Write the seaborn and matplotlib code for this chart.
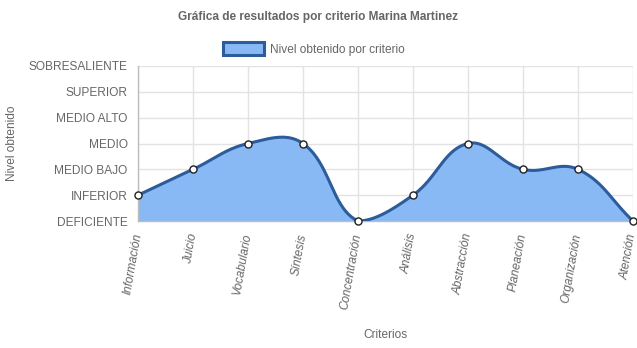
import numpy as np
import pandas as pd
import matplotlib
matplotlib.use("Agg")
import matplotlib.pyplot as plt
from matplotlib.patches import Patch
import seaborn as sns

categories = ["Información", "Juicio", "Vocabulario", "Síntesis", "Concentración",
              "Análisis", "Abstracción", "Planeación", "Organización", "Atención"]
values = [1, 2, 3, 3, 0, 1, 3, 2, 2, 0]
levels = ["DEFICIENTE", "INFERIOR", "MEDIO BAJO", "MEDIO", "MEDIO ALTO",
          "SUPERIOR", "SOBRESALIENTE"]
series_name = "Nivel obtenido por criterio"
title = "Gráfica de resultados por criterio Marina Martinez"

W, H, DPI = 637, 348, 100
L, R, T, B = 138, 633, 66, 221

sns.set_theme(style="white")
plt.rcParams['font.family'] = ['Liberation Sans', 'DejaVu Sans']

fill_c = "#88b9f5"
line_c = "#2d5c9b"
grey = "#666666"

fig = plt.figure(figsize=(W / DPI, H / DPI), dpi=DPI)
ax = fig.add_axes([L / W, 1 - B / H, (R - L) / W, (B - T) / H])
ax.set_xlim(0, len(categories) - 1)
ax.set_ylim(0, len(levels) - 1)

# Chart.js-like spline (tension 0.4), computed in pixel space
xs = np.arange(len(categories), dtype=float)
ys = np.array(values, dtype=float)
sx = (R - L) / (len(categories) - 1)
sy = (B - T) / (len(levels) - 1)
px, py = xs * sx, ys * sy
tension = 0.4
n = len(px)
cprev = np.zeros((n, 2)); cnext = np.zeros((n, 2))
for i in range(n):
    p = (px[max(i - 1, 0)], py[max(i - 1, 0)])
    c = (px[i], py[i])
    nx = (px[min(i + 1, n - 1)], py[min(i + 1, n - 1)])
    d01 = np.hypot(c[0] - p[0], c[1] - p[1])
    d12 = np.hypot(nx[0] - c[0], nx[1] - c[1])
    s01 = d01 / (d01 + d12) if d01 + d12 else 0
    s12 = d12 / (d01 + d12) if d01 + d12 else 0
    fa, fb = tension * s01, tension * s12
    cprev[i] = (c[0] - fa * (nx[0] - p[0]), c[1] - fa * (nx[1] - p[1]))
    cnext[i] = (c[0] + fb * (nx[0] - p[0]), c[1] + fb * (nx[1] - p[1]))
ymax_px = (len(levels) - 1) * sy
cprev[:, 1] = np.clip(cprev[:, 1], 0, ymax_px)
cnext[:, 1] = np.clip(cnext[:, 1], 0, ymax_px)

t = np.linspace(0, 1, 60)[:, None]
curve = []
for i in range(n - 1):
    P0 = np.array([px[i], py[i]]); P3 = np.array([px[i + 1], py[i + 1]])
    P1 = cnext[i]; P2 = cprev[i + 1]
    pts = ((1 - t) ** 3) * P0 + 3 * ((1 - t) ** 2) * t * P1 + 3 * (1 - t) * t ** 2 * P2 + t ** 3 * P3
    curve.append(pts if i == 0 else pts[1:])
curve = np.vstack(curve)
cx, cy = curve[:, 0] / sx, curve[:, 1] / sy

ax.fill_between(cx, 0, cy, color=fill_c, linewidth=0, zorder=2)
curve_df = pd.DataFrame({"x": cx, "y": cy, "ord": np.arange(len(cx))})
sns.lineplot(data=curve_df, x="x", y="y", sort=False, color=line_c, linewidth=2.2,
             ax=ax, zorder=3, estimator=None)
pts_df = pd.DataFrame({"x": xs, "y": ys})
sns.scatterplot(data=pts_df, x="x", y="y", s=26, color="white", edgecolor="#222222",
                linewidth=1.0, ax=ax, zorder=4, clip_on=False)

# grid / axes
ax.set_xticks(xs)
ax.set_xticklabels(categories, rotation=80, rotation_mode="anchor", ha="right",
                   va="center", fontstyle="italic", fontsize=8.6, color=grey)
ax.set_yticks(range(len(levels)))
ax.set_yticklabels(levels, fontsize=8.6, color=grey)
ax.grid(True, color="#e3e3e3", linewidth=1)
ax.set_axisbelow(True)
ax.tick_params(axis="both", length=6, width=1, color="#e3e3e3", pad=1.5)
ax.tick_params(axis="x", pad=3)
for s in ["top", "right"]:
    ax.spines[s].set_visible(False)
for s in ["left", "bottom"]:
    ax.spines[s].set_color("#bdbdbd")
    ax.spines[s].set_linewidth(1)
ax.set_xlabel(""); ax.set_ylabel("")

fig.text(12 / W, 1 - 143 / H, "Nivel obtenido", rotation=90, ha="center", va="center",
         fontsize=8.6, color=grey)
fig.text(385 / W, 1 - 335 / H, "Criterios", ha="center", va="center",
         fontsize=8.6, color=grey)
fig.text(318 / W, 1 - 17 / H, title, ha="center", va="center", fontsize=8.6,
         fontweight="bold", color=grey)

handle = Patch(facecolor=fill_c, edgecolor=line_c, linewidth=2.2)
fig.legend([handle], [series_name], loc="center", bbox_to_anchor=(314 / W, 1 - 49 / H),
           frameon=False, fontsize=8.6, labelcolor=grey, handlelength=3.4,
           handleheight=1.2, handletextpad=0.5)

fig.savefig("out.png", dpi=DPI)
